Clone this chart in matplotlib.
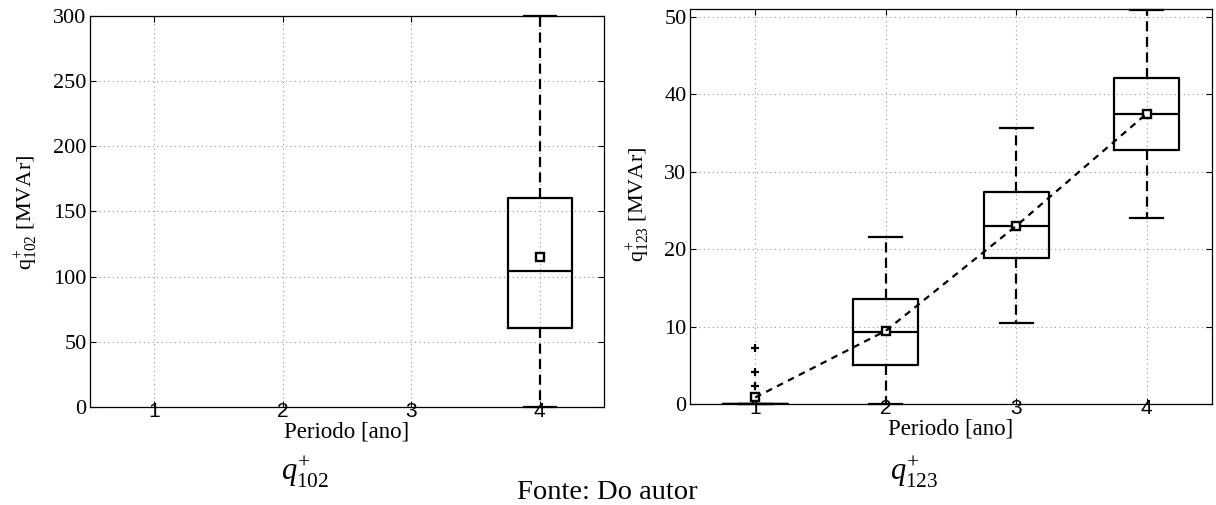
import matplotlib
matplotlib.use('Agg')
import matplotlib.pyplot as plt

# box statistics per period, q+ 102 (only period 4 has data)
pos_102 = [4]
q1_102 = [60.4]
med_102 = [104.1]
q3_102 = [160.6]
lo_102 = [0.0]
hi_102 = [300.0]
mean_102 = [115.3]

# box statistics per period, q+ 123
pos_123 = [1, 2, 3, 4]
q1_123 = [0.0, 5.0, 18.8, 32.8]
med_123 = [0.0, 9.3, 23.0, 37.4]
q3_123 = [0.0, 13.5, 27.4, 42.1]
lo_123 = [0.0, 0.0, 10.5, 24.0]
hi_123 = [0.0, 21.5, 35.7, 50.9]
mean_123 = [0.85, 9.45, 23.0, 37.5]
fliers_123 = [[7.2, 4.1, 2.35], [], [], []]

periods = [1, 2, 3, 4]
yticks_102 = [0, 50, 100, 150, 200, 250, 300]
yticks_123 = [0, 10, 20, 30, 40, 50]

plt.rcParams['font.family'] = 'Liberation Serif'
plt.rcParams['mathtext.fontset'] = 'custom'
plt.rcParams['mathtext.rm'] = 'Liberation Serif'
plt.rcParams['mathtext.it'] = 'Liberation Serif:italic'
plt.rcParams['mathtext.bf'] = 'Liberation Serif:bold'

W, H = 1216, 505
fig = plt.figure(figsize=(W / 100, H / 100), dpi=100)


def px_axes(x0, y0, x1, y1):
    # rectangle given in pixel coords (top-left origin)
    return fig.add_axes([x0 / W, 1 - y1 / H, (x1 - x0) / W, (y1 - y0) / H])


def make_stats(pos, q1, med, q3, lo, hi, mean, fliers=None):
    stats = []
    for i in range(len(pos)):
        stats.append(dict(q1=q1[i], med=med[i], q3=q3[i], whislo=lo[i],
                          whishi=hi[i], mean=mean[i],
                          fliers=fliers[i] if fliers else []))
    return stats


box_kw = dict(
    widths=0.5, showmeans=True, patch_artist=False,
    boxprops=dict(color='k', linewidth=1.6),
    medianprops=dict(color='k', linewidth=1.6),
    whiskerprops=dict(color='k', linewidth=1.6, linestyle=(0, (4.5, 2.5))),
    capprops=dict(color='k', linewidth=1.6, clip_on=False),
    meanprops=dict(marker='s', markersize=5.5, markerfacecolor='white',
                   markeredgecolor='k', markeredgewidth=1.7),
    flierprops=dict(marker='+', markersize=6, markeredgecolor='k',
                    markeredgewidth=1.6),
)


def style_axes(ax, yticks, ylim):
    ax.set_xlim(0.5, 4.5)
    ax.set_ylim(*ylim)
    ax.set_xticks(periods, [str(p) for p in periods],
                  fontfamily='Liberation Sans', fontsize=15)
    ax.set_yticks(yticks, [str(t) for t in yticks],
                  fontfamily='Liberation Serif', fontsize=16)
    ax.tick_params(direction='in', top=True, right=True, length=4, width=0.8)
    ax.tick_params(axis='x', pad=-3.6)
    ax.tick_params(axis='y', pad=2.5)
    ax.grid(True, color='0.6', linestyle=(0, (1, 3)), linewidth=0.8)
    ax.set_axisbelow(True)
    for s in ax.spines.values():
        s.set_linewidth(0.9)
    ax.set_xlabel('Periodo [ano]', fontsize=16.5)
    ax.xaxis.set_label_coords(0.5, -0.036)


# left panel: q+ 102
ax1 = px_axes(90, 16, 604, 407)
ax1.bxp(make_stats(pos_102, q1_102, med_102, q3_102, lo_102, hi_102, mean_102),
        positions=pos_102, **box_kw)
style_axes(ax1, yticks_102, (0, 300))
fig.text(26 / W, 1 - 212 / H, r'$\mathrm{q}^{+}_{102}$ [MVAr]', rotation=90,
         ha='center', va='center', fontsize=16)

# right panel: q+ 123
ax2 = px_axes(690, 9, 1212, 404)
ax2.bxp(make_stats(pos_123, q1_123, med_123, q3_123, lo_123, hi_123, mean_123,
                   fliers_123),
        positions=pos_123, **box_kw)
ax2.plot(pos_123, mean_123, color='k', linewidth=1.6,
         linestyle=(0, (3, 2.5)), zorder=3)
style_axes(ax2, yticks_123, (0, 51))
fig.text(638 / W, 1 - 204 / H, r'$\mathrm{q}^{+}_{123}$ [MVAr]', rotation=90,
         ha='center', va='center', fontsize=16)

# captions
fig.text(305 / W, 1 - 472 / H, r'$q^{+}_{102}$', ha='center', va='center',
         fontsize=22)
fig.text(914 / W, 1 - 472 / H, r'$q^{+}_{123}$', ha='center', va='center',
         fontsize=22)
fig.text(607 / W, 6 / H, 'Fonte: Do autor', ha='center', va='baseline',
         fontsize=20.5)

fig.savefig('out.png', dpi=100)
